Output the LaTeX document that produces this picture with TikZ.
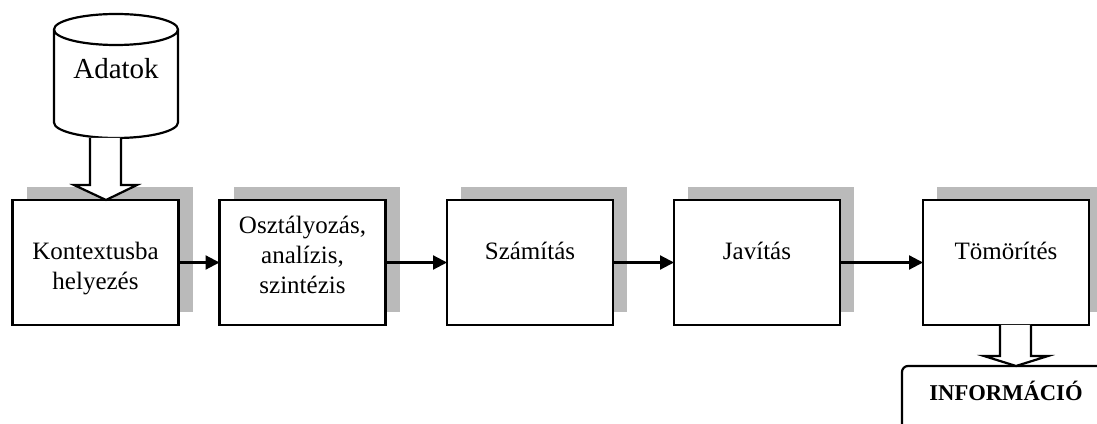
\documentclass[tikz,border=0pt]{standalone}
\usepackage{fontspec}
\setmainfont{Liberation Serif}
\usetikzlibrary{arrows.meta, positioning, calc, shadows}
\definecolor{myshadow}{RGB}{186,186,186}
\tikzset{
    procbox/.style={draw,line width=2.2pt,fill=white,minimum width=166pt,minimum height=125pt,inner sep=0pt,outer sep=0pt,
        drop shadow={shadow xshift=14pt,shadow yshift=13pt,fill=myshadow,opacity=1}},
    proclabel/.style={align=center,font=\fontsize{25}{30}\selectfont},
    flowarrow/.style={-{Triangle[length=14pt,width=14pt]},line width=2.2pt},
    blockarrow/.style={draw,line width=2.2pt,fill=white,line join=miter}
}
\begin{document}
\begin{tikzpicture}[x=1pt,y=1pt]
    \clip (0,0) rectangle (1097,423);

    % Data store
    \node[minimum width=124pt,minimum height=124pt,inner sep=0pt,outer sep=0pt,font=\fontsize{29}{34}\selectfont,yshift=7pt] (adatok) at (116,347) {Adatok};
    \coordinate (adatokbottom) at (116,285);
    \draw[line width=2.2pt] (54,393.5) arc[start angle=180,end angle=360,x radius=62,y radius=15.5]
        arc[start angle=0,end angle=180,x radius=62,y radius=15.5] -- (54,300.5)
        arc[start angle=180,end angle=360,x radius=62,y radius=15.5] -- (178,393.5);

    % Process boxes
    \node[procbox] (kontextus) at (95.5,160.5) {};
    \node[procbox,right=41pt of kontextus] (osztalyozas) {};
    \node[procbox,right=61.5pt of osztalyozas] (szamitas) {};
    \node[procbox,right=61pt of szamitas] (javitas) {};
    \node[procbox,right=83pt of javitas] (tomorites) {};

    % Box texts
    \node[proclabel,yshift=-6pt] (kontextustext) at (kontextus.center) {Kontextusba\\helyezés};
    \node[proclabel,yshift=8pt] (osztalyozastext) at (osztalyozas.center) {Osztályozás,\\analízis,\\szintézis};
    \node[proclabel,yshift=11.5pt] (szamitastext) at (szamitas.center) {Számítás};
    \node[proclabel,yshift=11.5pt] (javitastext) at (javitas.center) {Javítás};
    \node[proclabel,yshift=11.5pt] (tomoritestext) at (tomorites.center) {Tömörítés};

    % Arrows
    \draw[flowarrow] (kontextus) -- (osztalyozas);
    \draw[flowarrow] (osztalyozas) -- (szamitas);
    \draw[flowarrow] (szamitas) -- (javitas);
    \draw[flowarrow] (javitas) -- (tomorites);

    % Result box
    \node[draw,line width=2.2pt,fill=white,rounded corners=6pt,minimum width=260pt,minimum height=120pt,anchor=north west,inner sep=0pt,outer sep=0pt] (informacio) at (902,57) {};
    \node[font=\fontsize{22.6}{27}\selectfont\bfseries] (informaciotext) at (1006,32) {INFORMÁCIÓ};

    % Block arrows
    \draw[blockarrow] (adatokbottom -| 90,0) -- (90,238) -- (74,238) -- (kontextus.north -| 106,0) -- (137,238) -- (121,238) -- (adatokbottom -| 121,0);
    \draw[blockarrow] (tomorites.south -| 1000,0) -- (1000,67) -- (984,67) -- (informacio.north -| 1016,0) -- (1048,67) -- (1031,67) -- (tomorites.south -| 1031,0);
\end{tikzpicture}
\end{document}
